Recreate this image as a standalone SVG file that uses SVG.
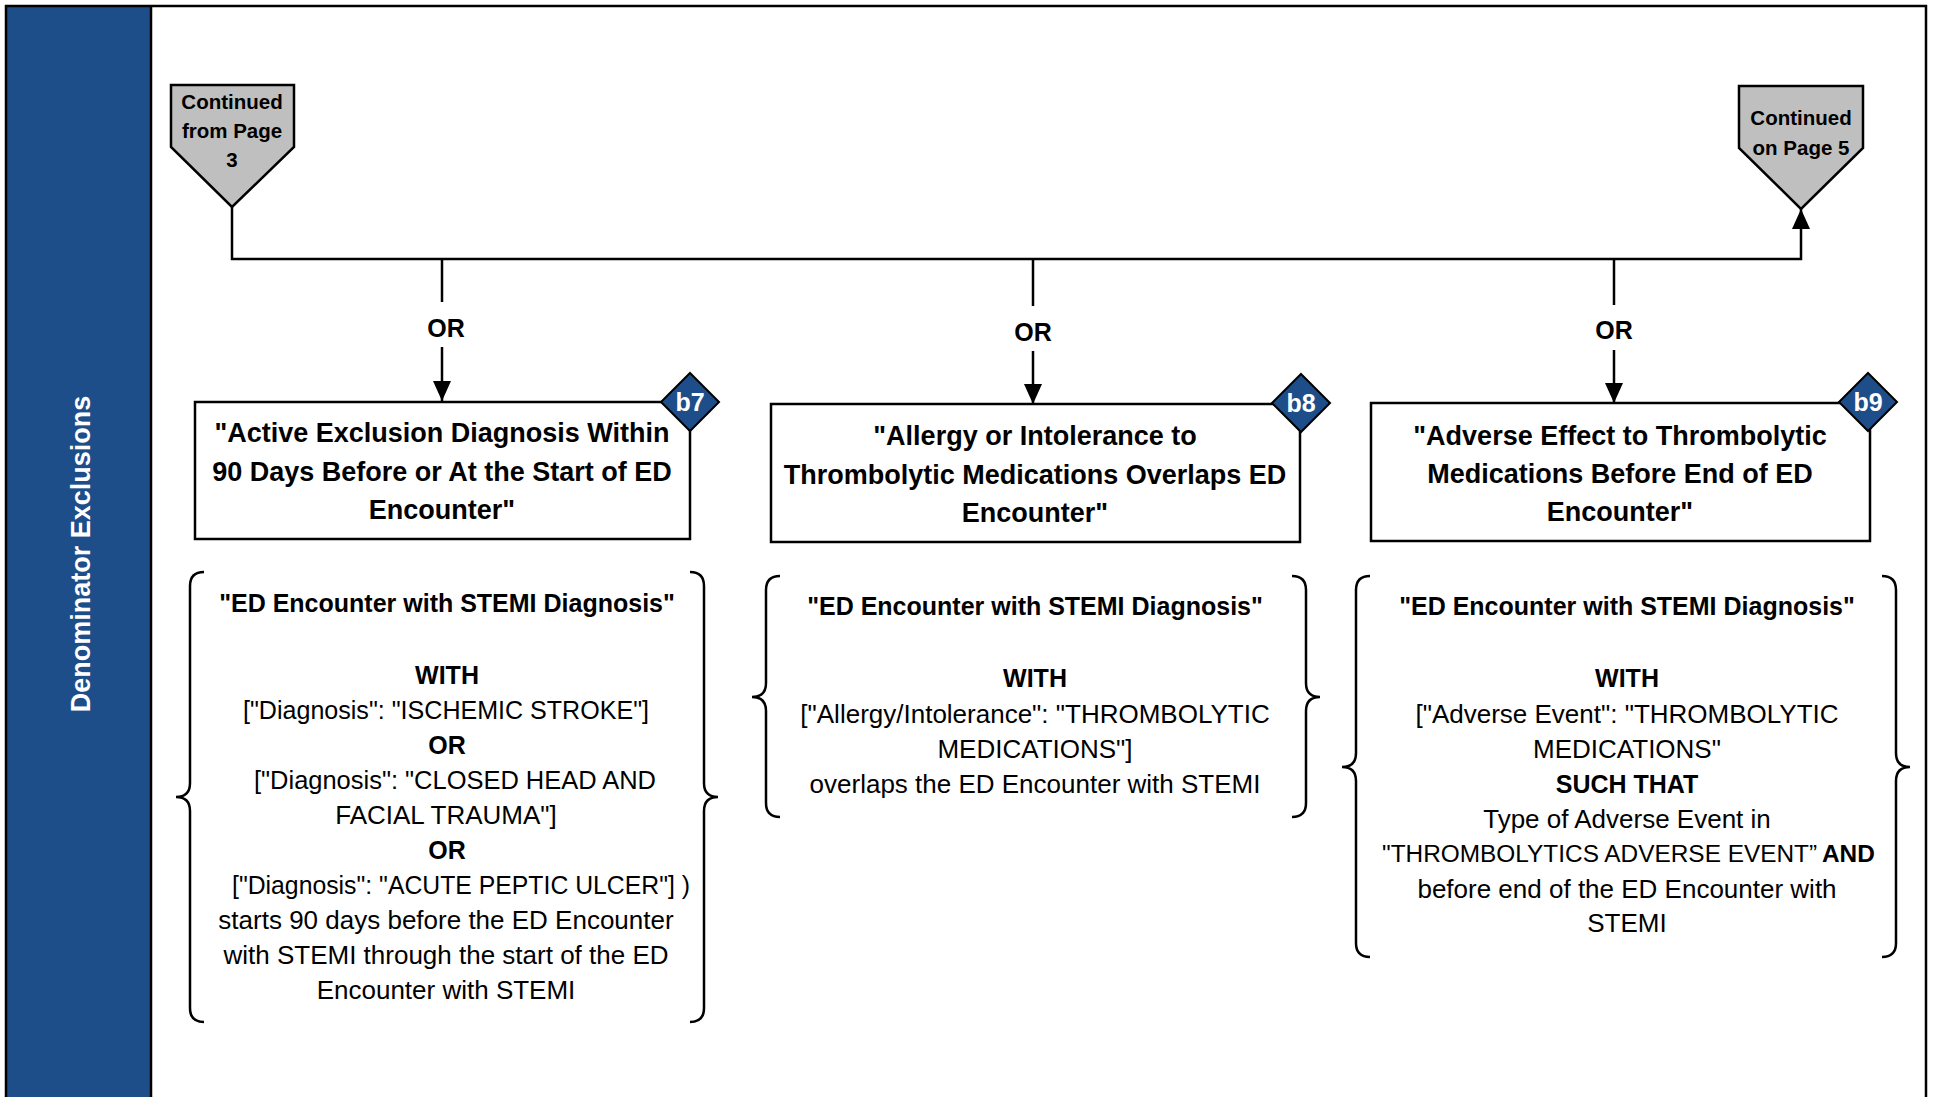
<svg xmlns="http://www.w3.org/2000/svg" width="1933" height="1097" viewBox="0 0 1933 1097">
<style>
  .ln{fill:none;stroke:#000;stroke-width:2.5}
  .box{fill:#fff;stroke:#000;stroke-width:2.5}
  .pent{fill:#bfbfbf;stroke:#000;stroke-width:2.5}
  .dia{fill:#1d4e89;stroke:#000;stroke-width:2}
  .brace{fill:none;stroke:#000;stroke-width:2.5}
  text{font-family:"Liberation Sans",Arial,sans-serif;fill:#000;text-anchor:middle}
  .t{font-size:27px;font-weight:bold}
  .p{font-size:20.5px;font-weight:bold}
  .or{font-size:25px;font-weight:bold}
  .id{font-size:25px;font-weight:bold;fill:#fff}
  .bh{font-size:25px;font-weight:bold}
  .b{font-size:26px}
  .bs{font-size:24.4px}
  .bb{font-weight:bold}
  .st{text-anchor:start}
  .lane{font-size:27px;font-weight:bold;fill:#fff}
</style>
<defs>
  <marker id="arr" markerUnits="userSpaceOnUse" viewBox="0 0 20 18" refX="20" refY="9" markerWidth="20" markerHeight="18" orient="auto">
    <path d="M0,0 L20,9 L0,18 z" fill="#000"/>
  </marker>
</defs>

<g id="frame">
  <rect x="6" y="6" width="145" height="1095" fill="#1d4e89"/>
  <path class="ln" d="M6,1097 V6 H1926 V1097"/>
  <line class="ln" x1="151" y1="6" x2="151" y2="1097"/>
  <text class="lane" transform="translate(90,554) rotate(-90)">Denominator Exclusions</text>
</g>

<g id="connectors">
  <path class="ln" d="M232,207 V259 H1801 V209" marker-end="url(#arr)"/>
  <line class="ln" x1="442" y1="259" x2="442" y2="302"/>
  <line class="ln" x1="442" y1="347" x2="442" y2="401" marker-end="url(#arr)"/>
  <text class="or" x="446" y="337">OR</text>
  <line class="ln" x1="1033" y1="259" x2="1033" y2="306"/>
  <line class="ln" x1="1033" y1="351" x2="1033" y2="404" marker-end="url(#arr)"/>
  <text class="or" x="1033" y="341">OR</text>
  <line class="ln" x1="1614" y1="259" x2="1614" y2="305"/>
  <line class="ln" x1="1614" y1="350" x2="1614" y2="403" marker-end="url(#arr)"/>
  <text class="or" x="1614" y="339">OR</text>
</g>

<g id="start">
  <path class="pent" d="M171,85 H294 V147 L232,207 L171,147 Z"/>
  <text class="p" x="232" y="109">Continued</text>
  <text class="p" x="232" y="138">from Page</text>
  <text class="p" x="232" y="167">3</text>
</g>

<g id="end">
  <path class="pent" d="M1739,86 H1863 V148 L1801,209 L1739,148 Z"/>
  <text class="p" x="1801" y="125">Continued</text>
  <text class="p" x="1801" y="155">on Page 5</text>
</g>

<g id="b7">
  <rect class="box" x="195" y="402" width="495" height="137"/>
  <text class="t" x="442" y="442">"Active Exclusion Diagnosis Within</text>
  <text class="t" x="442" y="481">90 Days Before or At the Start of ED</text>
  <text class="t" x="442" y="519">Encounter"</text>
  <path class="dia" d="M690,373 L719,402 L690,431 L661,402 Z"/>
  <text class="id" x="690" y="411">b7</text>
</g>

<g id="b8">
  <rect class="box" x="771" y="404" width="529" height="138"/>
  <text class="t" x="1035" y="445">"Allergy or Intolerance to</text>
  <text class="t" x="1035" y="484">Thrombolytic Medications Overlaps ED</text>
  <text class="t" x="1035" y="522">Encounter"</text>
  <path class="dia" d="M1301,374 L1330,403 L1301,432 L1272,403 Z"/>
  <text class="id" x="1301" y="412">b8</text>
</g>

<g id="b9">
  <rect class="box" x="1371" y="403" width="499" height="138"/>
  <text class="t" x="1620" y="445">"Adverse Effect to Thrombolytic</text>
  <text class="t" x="1620" y="483">Medications Before End of ED</text>
  <text class="t" x="1620" y="521">Encounter"</text>
  <path class="dia" d="M1868,373 L1897,402 L1868,431 L1839,402 Z"/>
  <text class="id" x="1868" y="411">b9</text>
</g>

<g id="b7-detail">
  <path class="brace" d="M204,572 Q190,572 190,586 V783 Q190,797 176,797 Q190,797 190,811 V1008 Q190,1022 204,1022"/>
  <path class="brace" d="M690,572 Q704,572 704,586 V783 Q704,797 718,797 Q704,797 704,811 V1008 Q704,1022 690,1022"/>
  <text class="bh" x="447" y="612">"ED Encounter with STEMI Diagnosis"</text>
  <text class="bh" x="447" y="684">WITH</text>
  <text class="b" x="446" y="719" textLength="406" lengthAdjust="spacingAndGlyphs">["Diagnosis": "ISCHEMIC STROKE"]</text>
  <text class="bh" x="447" y="754">OR</text>
  <text class="b" x="455" y="789" textLength="402" lengthAdjust="spacingAndGlyphs">["Diagnosis": "CLOSED HEAD AND</text>
  <text class="b" x="446" y="824">FACIAL TRAUMA"]</text>
  <text class="bh" x="447" y="859">OR</text>
  <text class="b" x="461" y="894" textLength="458" lengthAdjust="spacingAndGlyphs">["Diagnosis": "ACUTE PEPTIC ULCER"] )</text>
  <text class="b" x="446" y="929">starts 90 days before the ED Encounter</text>
  <text class="b" x="446" y="964">with STEMI through the start of the ED</text>
  <text class="b" x="446" y="999">Encounter with STEMI</text>
</g>

<g id="b8-detail">
  <path class="brace" d="M780,576 Q766,576 766,590 V683 Q766,697 752,697 Q766,697 766,711 V803 Q766,817 780,817"/>
  <path class="brace" d="M1292,576 Q1306,576 1306,590 V683 Q1306,697 1320,697 Q1306,697 1306,711 V803 Q1306,817 1292,817"/>
  <text class="bh" x="1035" y="615">"ED Encounter with STEMI Diagnosis"</text>
  <text class="bh" x="1035" y="687">WITH</text>
  <text class="b" x="1035" y="723">["Allergy/Intolerance": "THROMBOLYTIC</text>
  <text class="b" x="1035" y="758">MEDICATIONS"]</text>
  <text class="b" x="1035" y="793">overlaps the ED Encounter with STEMI</text>
</g>

<g id="b9-detail">
  <path class="brace" d="M1370,576 Q1356,576 1356,590 V753 Q1356,767 1342,767 Q1356,767 1356,781 V943 Q1356,957 1370,957"/>
  <path class="brace" d="M1882,576 Q1896,576 1896,590 V753 Q1896,767 1910,767 Q1896,767 1896,781 V943 Q1896,957 1882,957"/>
  <text class="bh" x="1627" y="615">"ED Encounter with STEMI Diagnosis"</text>
  <text class="bh" x="1627" y="687">WITH</text>
  <text class="b" x="1627" y="723">["Adverse Event": "THROMBOLYTIC</text>
  <text class="b" x="1627" y="758">MEDICATIONS"</text>
  <text class="bh" x="1627" y="793">SUCH THAT</text>
  <text class="b" x="1627" y="828">Type of Adverse Event in</text>
  <text class="bs st" x="1382" y="862">"THROMBOLYTICS ADVERSE EVENT”</text>
  <text class="bs bb st" x="1822" y="862">AND</text>
  <text class="b" x="1627" y="898">before end of the ED Encounter with</text>
  <text class="b" x="1627" y="932">STEMI</text>
</g>
</svg>
